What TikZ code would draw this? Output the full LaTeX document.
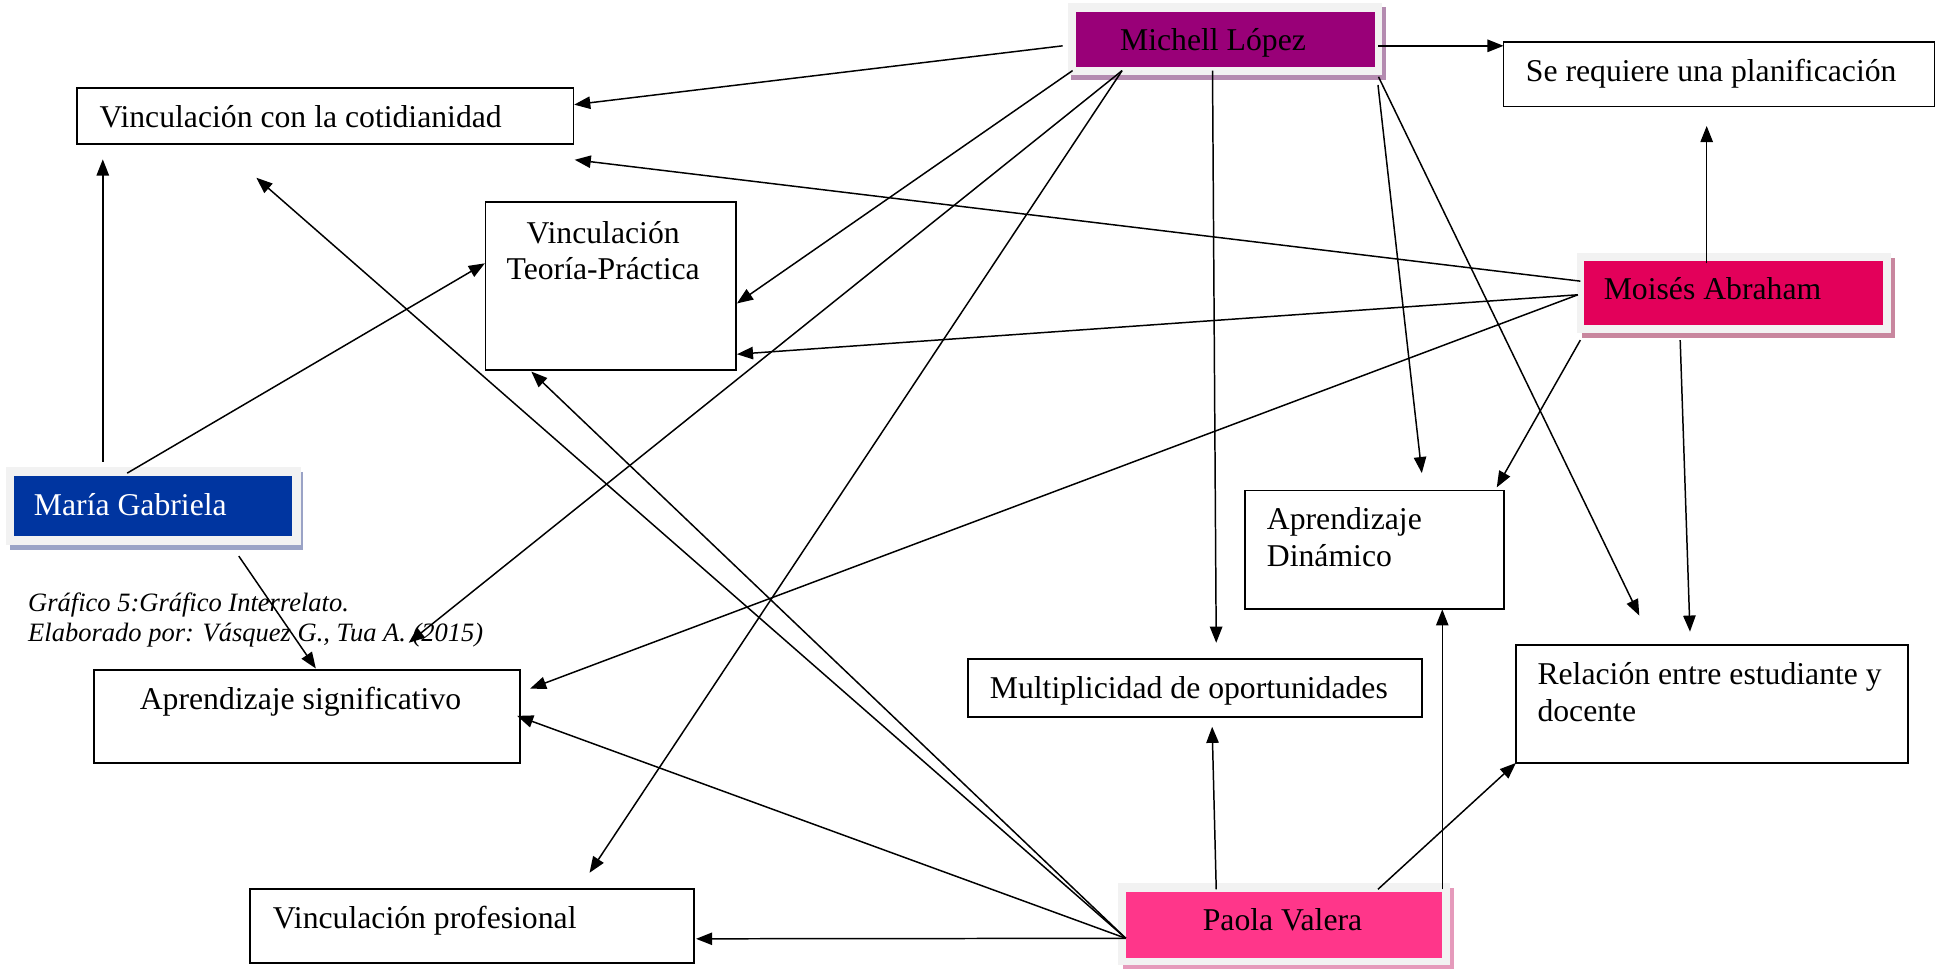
\documentclass[tikz,border=0pt]{standalone}
\usepackage{fontspec}
\setmainfont{Liberation Serif}
\usetikzlibrary{arrows.meta,fit}
\definecolor{mich}{HTML}{990078}
\definecolor{moi}{HTML}{E3005A}
\definecolor{mar}{HTML}{0035A0}
\definecolor{pao}{HTML}{FF368A}
\definecolor{framegray}{HTML}{F2F2F2}
\definecolor{michsh}{HTML}{B48BB0}
\definecolor{marsh}{HTML}{9AA3C6}
\definecolor{moish}{HTML}{C8869E}
\definecolor{paosh}{HTML}{E59ABB}
\begin{document}
\begin{tikzpicture}[x=0.5pt,y=-0.5pt,
  box/.style={draw, line width=0.7pt, inner sep=0pt},
  frame/.style={fill=framegray, inner sep=0pt},
  person/.style={inner sep=0pt},
  txt/.style={anchor=base west, inner sep=0pt, font=\fontsize{12.8}{14.9}\selectfont},
  ctxt/.style={anchor=base, inner sep=0pt, align=center, font=\fontsize{12.8}{14.9}\selectfont},
  ltxt/.style={anchor=base west, inner sep=0pt, align=left, font=\fontsize{12.8}{14.9}\selectfont},
  captxt/.style={anchor=base west, inner sep=0pt, font=\fontsize{10.7}{12}\selectfont\itshape},
  arr/.style={-{Triangle[length=6.5pt,width=5pt]}, line width=0.6pt}]
\useasboundingbox (0,0) rectangle (1568,782.4);

% ---------- person boxes ----------
\fill[michsh] (865,6) rectangle (1119,64.6);
\node[frame, fit={(862,2.7) (1116,60.6)}] (michf) {};
\node[person, fill=mich, fit={(869,9.4) (1110,53.8)}] (mich) {};
\node[txt] (micht) at (904,40.4) {Michell López};

\fill[moish] (1277,208) rectangle (1530,273);
\node[frame, fit={(1273,204.5) (1527,269)}] (moif) {};
\node[person, fill=moi, fit={(1279,211) (1520.6,262.4)}] (moi) {};
\node[txt] (moit) at (1294.5,242) {Moisés Abraham};

\fill[marsh] (8,381) rectangle (245,444);
\node[frame, fit={(5,377) (243,440)}] (marf) {};
\node[person, fill=mar, fit={(11.5,384) (236,433)}] (mar) {};
\node[txt, text=white] (mart) at (27,416) {María Gabriela};

\fill[paosh] (907,717) rectangle (1174,782.4);
\node[frame, fit={(903,713) (1170.5,779)}] (paof) {};
\node[person, fill=pao, fit={(909.5,720) (1164.6,773.8)}] (pao) {};
\node[txt] (paot) at (970.8,751) {Paola Valera};

% ---------- concept boxes ----------
\node[box, fit={(62,71) (463,116)}] (cot) {};
\node[txt] (cott) at (80,103) {Vinculación con la cotidianidad};

\node[box, fit={(1214,34) (1562,86)}] (plan) {};
\node[txt] (plant) at (1231.6,66) {Se requiere una planificación};

\node[box, fit={(392,163) (594,299)}] (vtp) {};
\node[ctxt] (vtpt) at (487,226) {Vinculación\\Teoría-Práctica};

\node[box, fit={(1005,396) (1214.5,492)}] (adin) {};
\node[ltxt] (adint) at (1022.5,457.6) {Aprendizaje\\Dinámico};

\node[box, fit={(781.6,532) (1148,578.7)}] (mult) {};
\node[txt] (multt) at (798.8,563.8) {Multiplicidad de oportunidades};

\node[box, fit={(1224,520.8) (1540.8,615.8)}] (rel) {};
\node[ltxt] (relt) at (1241,582.7) {Relación entre estudiante y\\docente};

\node[box, fit={(75.7,541) (420,616)}] (asig) {};
\node[txt] (asigt) at (112.5,573) {Aprendizaje significativo};

\node[box, fit={(202,717.6) (560.6,777.8)}] (vprof) {};
\node[txt] (vproft) at (220,749.5) {Vinculación profesional};

\node[captxt] (cap1) at (22.4,494) {Gráfico 5:Gráfico Interrelato.};
\node[captxt] (cap2) at (22.4,518) {Elaborado por: Vásquez G., Tua A. (2015)};

% ---------- connector end points ----------
\coordinate (mA) at (858,37);
\coordinate (mB) at (1113,37);
\coordinate (mC) at (866,57);
\coordinate (mD) at (906,57);
\coordinate (mE) at (979,57);
\coordinate (mF) at (1112.6,68.6);
\coordinate (mG) at (1113,62);
\coordinate (oA) at (1378,212.6);
\coordinate (oB) at (1276,227);
\coordinate (oC) at (1274,238);
\coordinate (oD) at (1276,274.6);
\coordinate (oE) at (1356.6,274.6);
\coordinate (gA) at (83,372.8);
\coordinate (gB) at (102.7,382);
\coordinate (gC) at (192.8,449);
\coordinate (pA) at (909,757.6);
\coordinate (pB) at (982,718);
\coordinate (pC) at (1164.5,718);
\coordinate (pD) at (1112.6,718);

\coordinate (cotA) at (463.6,84.5);
\coordinate (cotB) at (464,129);
\coordinate (cotC) at (83,128.7);
\coordinate (cotD) at (207,143.5);
\coordinate (planA) at (1214,37);
\coordinate (planB) at (1378,101.7);
\coordinate (vtpA) at (595,245);
\coordinate (vtpB) at (595,286);
\coordinate (vtpC) at (391.5,212.6);
\coordinate (vtpD) at (429,300);
\coordinate (asigA) at (330,519);
\coordinate (asigB) at (428,556);
\coordinate (asigC) at (255,539.7);
\coordinate (asigD) at (417.5,578);
\coordinate (vprofA) at (476,704.7);
\coordinate (vprofB) at (562,758);
\coordinate (multA) at (982,519);
\coordinate (multB) at (978.7,586.8);
\coordinate (adinA) at (1148,382);
\coordinate (adinB) at (1208.5,393.5);
\coordinate (adinC) at (1164.5,492);
\coordinate (relA) at (1323.6,497);
\coordinate (relB) at (1364.5,510);
\coordinate (relC) at (1224,616);

% ---------- connectors ----------
% Michell López
\draw[arr] (mA) -- (cotA);
\draw[arr] (mB) -- (planA);
\draw[arr] (mC) -- (vtpA);
\draw[arr] (mD) -- (asigA);
\draw[arr] (mD) -- (vprofA);
\draw[arr] (mE) -- (multA);
\draw[arr] (mF) -- (adinA);
\draw[arr] (mG) -- (relA);
% Moisés Abraham
\draw[arr] (oA) -- (planB);
\draw[arr] (oB) -- (cotB);
\draw[arr] (oC) -- (vtpB);
\draw[arr] (oC) -- (asigB);
\draw[arr] (oD) -- (adinB);
\draw[arr] (oE) -- (relB);
% María Gabriela
\draw[arr] (gA) -- (cotC);
\draw[arr] (gB) -- (vtpC);
\draw[arr] (gC) -- (asigC);
% Paola Valera
\draw[arr] (pA) -- (cotD);
\draw[arr] (pA) -- (vtpD);
\draw[arr] (pA) -- (asigD);
\draw[arr] (pA) -- (vprofB);
\draw[arr] (pB) -- (multB);
\draw[arr] (pC) -- (adinC);
\draw[arr] (pD) -- (relC);
\end{tikzpicture}
\end{document}
